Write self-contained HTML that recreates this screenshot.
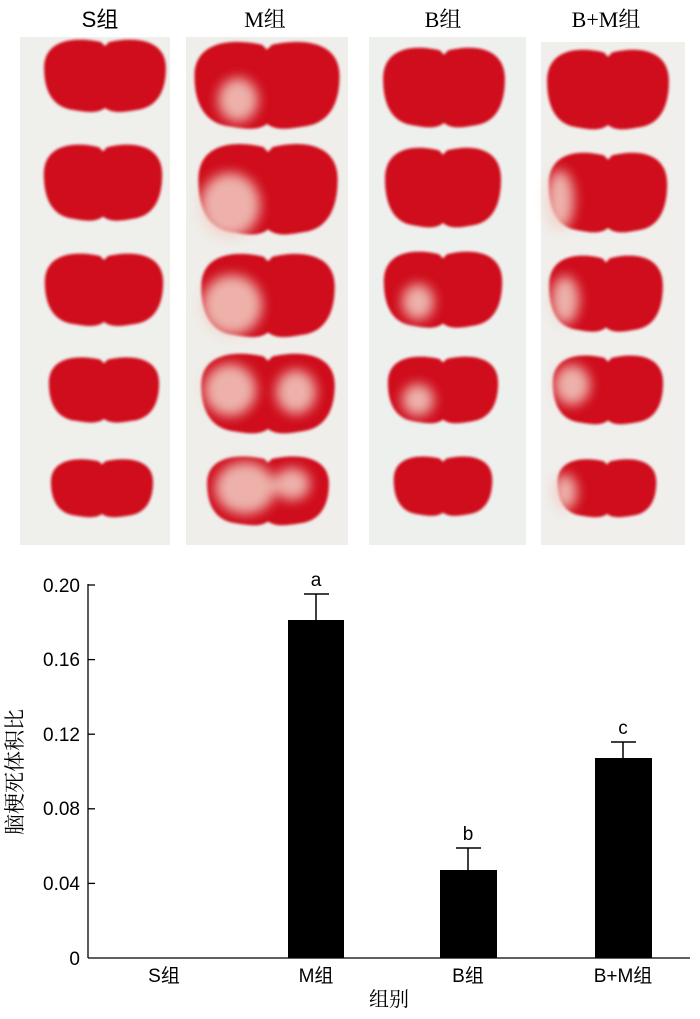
<!DOCTYPE html>
<html><head><meta charset="utf-8"><style>
body{margin:0;background:#fff;width:700px;height:1014px;overflow:hidden;font-family:"Liberation Sans","Noto Sans CJK SC",sans-serif}
</style></head><body>
<svg width="700" height="1014" xmlns="http://www.w3.org/2000/svg">
<defs>
<filter id="bl"><feGaussianBlur stdDeviation="1.2"/></filter>
<filter id="bl2"><feGaussianBlur stdDeviation="6"/></filter>
<g id="brain">
<path d="M-58,-10 C-58,-38 -30,-42 -4,-36 L0,-32 L4,-36 C30,-42 58,-38 58,-10 C58,18 46,30 30,32 C18,34 8,36 0,30 C-8,36 -18,34 -30,32 C-46,30 -58,18 -58,-10 Z" fill="#cf0c1e"/>
</g>
</defs>
<g font-family="Liberation Serif,'Noto Serif CJK SC',serif" font-size="22" text-anchor="middle">
<text x="100" y="27" font-family="Liberation Sans,'Noto Sans CJK SC',sans-serif">S组</text>
<text x="265" y="27">M组</text>
<text x="443" y="27">B组</text>
<text x="606" y="27">B+M组</text>
</g>
<rect x="20" y="37" width="150" height="508" fill="#efefec"/>
<rect x="186" y="37" width="162" height="508" fill="#efeeea"/>
<rect x="369" y="37" width="157" height="508" fill="#eef0ee"/>
<rect x="541" y="42" width="144" height="503" fill="#f0efec"/>
<g filter="url(#bl)">
<use href="#brain" transform="translate(105,78) scale(1.05,1.0)"/>
<use href="#brain" transform="translate(103,185) scale(1.02,1.05)"/>
<use href="#brain" transform="translate(104,292) scale(1.02,1.0)"/>
<use href="#brain" transform="translate(104,392) scale(0.95,0.9)"/>
<use href="#brain" transform="translate(102,490) scale(0.88,0.8)"/>
<use href="#brain" transform="translate(267,88) scale(1.25,1.2)"/>
<use href="#brain" transform="translate(268,192) scale(1.2,1.25)"/>
<use href="#brain" transform="translate(268,298) scale(1.15,1.15)"/>
<use href="#brain" transform="translate(268,396) scale(1.15,1.1)"/>
<use href="#brain" transform="translate(268,493) scale(1.05,0.95)"/>
<use href="#brain" transform="translate(444,90) scale(1.05,1.1)"/>
<use href="#brain" transform="translate(443,190) scale(1.0,1.1)"/>
<use href="#brain" transform="translate(443,292) scale(1.02,1.05)"/>
<use href="#brain" transform="translate(443,392) scale(0.95,0.92)"/>
<use href="#brain" transform="translate(443,488) scale(0.85,0.82)"/>
<use href="#brain" transform="translate(608,92) scale(1.05,1.1)"/>
<use href="#brain" transform="translate(608,195) scale(1.02,1.1)"/>
<use href="#brain" transform="translate(606,296) scale(0.98,1.05)"/>
<use href="#brain" transform="translate(608,392) scale(0.95,0.95)"/>
<use href="#brain" transform="translate(607,490) scale(0.85,0.8)"/>
</g>
<g filter="url(#bl2)" fill="#f2cfc4" opacity="0.85">
<ellipse cx="238" cy="100" rx="20" ry="22"/>
<ellipse cx="230" cy="205" rx="30" ry="32"/>
<ellipse cx="232" cy="305" rx="30" ry="30"/>
<ellipse cx="230" cy="390" rx="26" ry="26"/>
<ellipse cx="296" cy="392" rx="20" ry="22"/>
<ellipse cx="245" cy="488" rx="30" ry="26"/>
<ellipse cx="292" cy="484" rx="18" ry="16"/>
<ellipse cx="418" cy="302" rx="16" ry="18"/>
<ellipse cx="418" cy="400" rx="16" ry="16"/>
<ellipse cx="560" cy="200" rx="14" ry="30"/>
<ellipse cx="565" cy="300" rx="14" ry="24"/>
<ellipse cx="572" cy="385" rx="18" ry="20"/>
<ellipse cx="565" cy="492" rx="12" ry="18"/>
</g>
<!-- chart -->
<g stroke="#000" stroke-width="1.3" fill="none">
<line x1="88" y1="584" x2="88" y2="958"/>
<line x1="88" y1="958" x2="690" y2="958"/>
<line x1="88" y1="585" x2="95" y2="585"/>
<line x1="88" y1="659.6" x2="95" y2="659.6"/>
<line x1="88" y1="734.2" x2="95" y2="734.2"/>
<line x1="88" y1="808.8" x2="95" y2="808.8"/>
<line x1="88" y1="883.4" x2="95" y2="883.4"/>
</g>
<g font-size="19" text-anchor="end">
<text x="80" y="592">0.20</text>
<text x="80" y="666">0.16</text>
<text x="80" y="741">0.12</text>
<text x="80" y="815">0.08</text>
<text x="80" y="890">0.04</text>
<text x="80" y="965">0</text>
</g>
<g fill="#000">
<rect x="288" y="620" width="56" height="338"/>
<rect x="440" y="870" width="57" height="88"/>
<rect x="595" y="758" width="57" height="200"/>
</g>
<g stroke="#000" stroke-width="1.5">
<line x1="316" y1="620" x2="316" y2="594"/><line x1="304" y1="594" x2="329" y2="594"/>
<line x1="468" y1="870" x2="468" y2="848"/><line x1="456" y1="848" x2="481" y2="848"/>
<line x1="623" y1="758" x2="623" y2="742"/><line x1="611" y1="742" x2="636" y2="742"/>
</g>
<g font-size="19" text-anchor="middle">
<text x="316" y="586">a</text>
<text x="468" y="840">b</text>
<text x="623" y="734">c</text>
<text x="164" y="982">S组</text>
<text x="316" y="982">M组</text>
<text x="468" y="982">B组</text>
<text x="623" y="982">B+M组</text>
</g>
<text x="389" y="1006" font-size="20" text-anchor="middle" font-family="'Noto Serif CJK SC',serif">组别</text>
<text transform="translate(22,772) rotate(-90)" font-size="21" text-anchor="middle" font-family="'Noto Serif CJK SC',serif">脑梗死体积比</text>
</svg>
</body></html>
